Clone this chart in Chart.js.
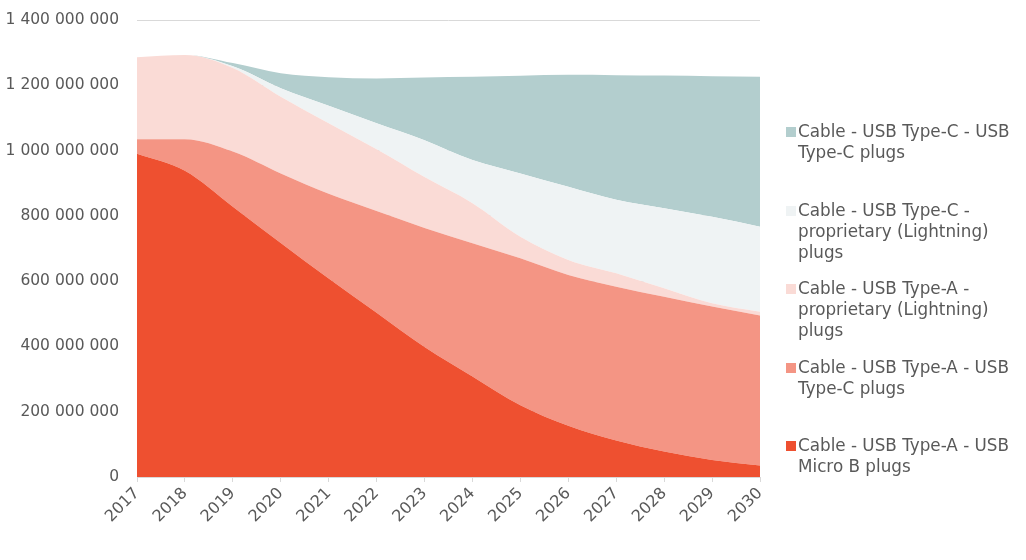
<!DOCTYPE html>
<html>
<head>
<meta charset="utf-8">
<script src="https://cdn.jsdelivr.net/npm/chart.js@4"></script>
<style>
  html, body { margin: 0; padding: 0; background: #fff; }
  #wrap { position: relative; width: 1026px; height: 560px; }
  #c { position: absolute; left: 0; top: 0; }
  #legend { position: absolute; left: 786px; top: 0; width: 240px; height: 560px;
            font-family: "DejaVu Sans", sans-serif; font-size: 16.8px; color: #595959; }
  .item { position: absolute; left: 0; width: 240px; }
  .box { position: absolute; left: 0; top: 6px; width: 10px; height: 10px; }
  .txt { position: absolute; left: 12px; top: 0; line-height: 21px; width: 230px; white-space: nowrap; }
</style>
</head>
<body>
<div id="wrap">
  <canvas id="c" width="1026" height="560"></canvas>
  <div id="legend"></div>
</div>
<script>
// ---- data (units) ----
const years = ['2017','2018','2019','2020','2021','2022','2023','2024','2025','2026','2027','2028','2029','2030'];
const microB   = [990, 938, 828, 717, 608, 503, 398, 308, 220, 157, 112, 78, 52, 35].map(v => v * 1e6);
const aToC     = [45, 97, 169, 213, 260, 312, 365, 408, 450, 462, 471, 474, 470, 460].map(v => v * 1e6);
const aToLight = [251, 258, 256, 235, 216, 189, 156, 123, 66, 46, 41, 26, 10, 11].map(v => v * 1e6);
const cToLight = [0, 0, 5, 26, 53, 80, 113, 132, 194, 224, 225, 245, 265, 261].map(v => v * 1e6);
const cToC     = [0, 0, 10, 46, 88, 137, 192, 255, 299, 343, 382, 407, 431, 459].map(v => v * 1e6);
const seriesNames = [
  'Cable - USB Type-A - USB Micro B plugs',
  'Cable - USB Type-A - USB Type-C plugs',
  'Cable - USB Type-A - proprietary (Lightning) plugs',
  'Cable - USB Type-C - proprietary (Lightning) plugs',
  'Cable - USB Type-C - USB Type-C plugs'
];
const seriesColors = ['#EE5030', '#F49584', '#FADBD6', '#EFF3F4', '#B3CECE'];
const yTicks = [0, 2e8, 4e8, 6e8, 8e8, 1e9, 1.2e9, 1.4e9];

const seriesData = [microB, aToC, aToLight, cToLight, cToC];
const fmt = v => String(Math.round(v)).replace(/\B(?=(\d{3})+(?!\d))/g, ' ');

const datasets = seriesData.map((d, i) => ({
  label: seriesNames[i],
  data: d,
  backgroundColor: seriesColors[i],
  borderColor: seriesColors[i],
  borderWidth: 0,
  pointRadius: 0,
  cubicInterpolationMode: 'monotone',
  fill: i === 0 ? 'origin' : '-1'
}));

new Chart(document.getElementById('c'), {
  type: 'line',
  data: { labels: years, datasets },
  options: {
    responsive: false,
    animation: false,
    layout: { padding: { top: 20, right: 266, left: 0, bottom: 0 } },
    plugins: { legend: { display: false }, tooltip: { enabled: false } },
    scales: {
      x: {
        offset: false,
        grid: { drawOnChartArea: false, drawTicks: true, tickLength: 5, color: '#d9d9d9' },
        border: { display: true, color: '#d9d9d9' },
        ticks: { color: '#595959', font: { family: 'DejaVu Sans', size: 16 }, maxRotation: 45, minRotation: 45, padding: 2, autoSkip: false },
        afterFit: s => { s.height = 83; }
      },
      y: {
        stacked: true,
        min: 0, max: 1.4e9,
        afterBuildTicks: s => { s.ticks = yTicks.map(v => ({ value: v })); },
        grid: { color: '#d9d9d9', drawTicks: true, tickLength: 18, tickColor: 'rgba(0,0,0,0)' },
        border: { display: false },
        ticks: { color: '#595959', font: { family: 'DejaVu Sans', size: 15.5 }, padding: 0, callback: v => fmt(v) },
        afterFit: s => { s.width = 137; }
      }
    }
  }
});

// legend (reverse order, top = last series)
const leg = document.getElementById('legend');
const legendLines = [
  ['Cable - USB Type-C - USB', 'Type-C plugs'],
  ['Cable - USB Type-C -', 'proprietary (Lightning)', 'plugs'],
  ['Cable - USB Type-A -', 'proprietary (Lightning)', 'plugs'],
  ['Cable - USB Type-A - USB', 'Type-C plugs'],
  ['Cable - USB Type-A - USB', 'Micro B plugs']
];
legendLines.forEach((lines, k) => {
  const idx = seriesNames.length - 1 - k;
  const it = document.createElement('div');
  it.className = 'item';
  it.style.top = (121 + k * 78.5) + 'px';
  const b = document.createElement('div');
  b.className = 'box';
  b.style.background = seriesColors[idx];
  const t = document.createElement('div');
  t.className = 'txt';
  t.innerHTML = lines.join('<br>');
  it.appendChild(b); it.appendChild(t);
  leg.appendChild(it);
});
</script>
</body>
</html>
